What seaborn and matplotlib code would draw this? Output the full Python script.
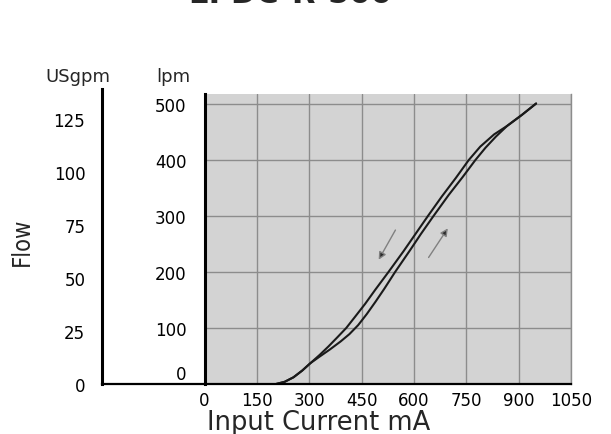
import matplotlib
matplotlib.use("Agg")
import matplotlib.pyplot as plt
import matplotlib.transforms as mtransforms
import numpy as np
import pandas as pd
import seaborn as sns

# ---- data ----
current_down = [205, 230, 255, 280, 303, 330, 355, 380, 406, 430, 460, 490, 527,
                570, 610, 640, 680, 720, 757, 790, 830, 867, 910, 950]
flow_down    = [0, 4, 12, 24, 37, 52, 67, 83, 100, 119, 143, 169, 200,
                237, 273, 300, 335, 368, 400, 424, 446, 461, 481, 501]
current_up   = [205, 230, 255, 280, 303, 330, 360, 390, 415, 440, 465, 490, 515,
                546, 590, 620, 656, 700, 740, 776, 805, 835, 867, 910, 950]
flow_up      = [0, 4, 12, 24, 37, 49, 62, 76, 89, 105, 125, 147, 170,
                200, 240, 268, 300, 338, 370, 400, 422, 442, 461, 481, 501]

x_ticks   = [0, 150, 300, 450, 600, 750, 900, 1050]
lpm_ticks = [0, 100, 200, 300, 400, 500]
gpm_ticks = [0, 25, 50, 75, 100, 125]
LPM_PER_GPM = 3.785

# arrows: (start, end) in data coordinates (mA, lpm)
arrow_down = [(547, 275), (499, 222)]
arrow_up   = [(642, 226), (697, 278)]

title_text = "EPDC-R-500"

df = pd.DataFrame({
    "current": current_down + current_up,
    "flow": flow_down + flow_up,
    "branch": ["down"] * len(current_down) + ["up"] * len(current_up),
})

sns.set_style("white")
plt.rcParams["font.family"] = ["DejaVu Sans"]

fig = plt.figure(figsize=(6.11, 4.35), dpi=100)

W, H = 611.0, 435.0
x0, x1 = 204.5, 571.0
y_bottom, y_top = 385.0, 95.0
ymax = 518.0

ax = fig.add_axes([x0 / W, (H - y_bottom) / H, (x1 - x0) / W, (y_bottom - y_top) / H])
ax.set_facecolor("#d3d3d3")
ax.set_axisbelow(True)
ax.grid(True, color="#8c8c8c", lw=1.0)

sns.lineplot(data=df, x="current", y="flow", units="branch", estimator=None,
             sort=False, color="#1a1a1a", lw=1.5, ax=ax, legend=False)

ax.set_xlim(0, 1050)
ax.set_ylim(0, ymax)
ax.set_xticks(x_ticks)
ax.set_yticks(lpm_ticks)
ax.set_xlabel("")
ax.set_ylabel("")
ax.tick_params(axis="both", length=0, labelsize=12, colors="black")
ax.tick_params(axis="x", pad=5)
ax.tick_params(axis="y", pad=13)
ax.spines["top"].set_visible(False)
ax.spines["right"].set_color("#8c8c8c")
ax.spines["right"].set_linewidth(1.0)
ax.spines["left"].set_color("black")
ax.spines["left"].set_linewidth(2.2)
ax.spines["bottom"].set_color("black")
ax.spines["bottom"].set_linewidth(1.6)

# lift the lpm "0" label a little, as in the reference
fig.canvas.draw()
zero_lbl = ax.get_yticklabels()[0]
zero_lbl.set_transform(zero_lbl.get_transform() +
                       mtransforms.ScaledTranslation(0, 12 / 100.0, fig.dpi_scale_trans))

for (s, e) in [arrow_down, arrow_up]:
    ax.annotate("", xy=e, xytext=s,
                arrowprops=dict(arrowstyle="-|>", ec="#808080", fc="#2a2a2a",
                                lw=1.0, mutation_scale=11, shrinkA=0, shrinkB=0))

# secondary USgpm axis on the left
g_left = 102.0
g_top = 90.0
ax2 = fig.add_axes([g_left / W, (H - y_bottom) / H, (x0 - g_left) / W, (y_bottom - g_top) / H])
ax2.set_facecolor("none")
ax2.set_ylim(0, (y_bottom - g_top) / (y_bottom - y_top) * ymax / LPM_PER_GPM)
ax2.set_xlim(0, 1)
ax2.set_yticks(gpm_ticks)
ax2.set_xticks([])
ax2.tick_params(axis="y", direction="in", length=15, width=1.0, color="#a0a0a0",
                labelsize=12, pad=12, labelcolor="black")
ax2.spines["top"].set_visible(False)
ax2.spines["right"].set_visible(False)
ax2.spines["left"].set_color("black")
ax2.spines["left"].set_linewidth(2.2)
ax2.spines["bottom"].set_color("black")
ax2.spines["bottom"].set_linewidth(1.6)

# texts
fig.text(78 / W, (H - 77) / H, "USgpm", fontsize=13, ha="center", va="center")
fig.text(173 / W, (H - 77) / H, "lpm", fontsize=13, ha="center", va="center")
fig.text(22 / W, (H - 242) / H, "Flow", fontsize=17, rotation=90, ha="center",
         va="center", fontstretch="condensed")
fig.text(207 / W, 5 / H, "Input Current mA", fontsize=18.5, ha="left", va="baseline")
fig.text(290 / W, (H - 3) / H, title_text, fontsize=22, fontweight="bold",
         ha="center", va="baseline")

fig.savefig("out.png", dpi=100)
